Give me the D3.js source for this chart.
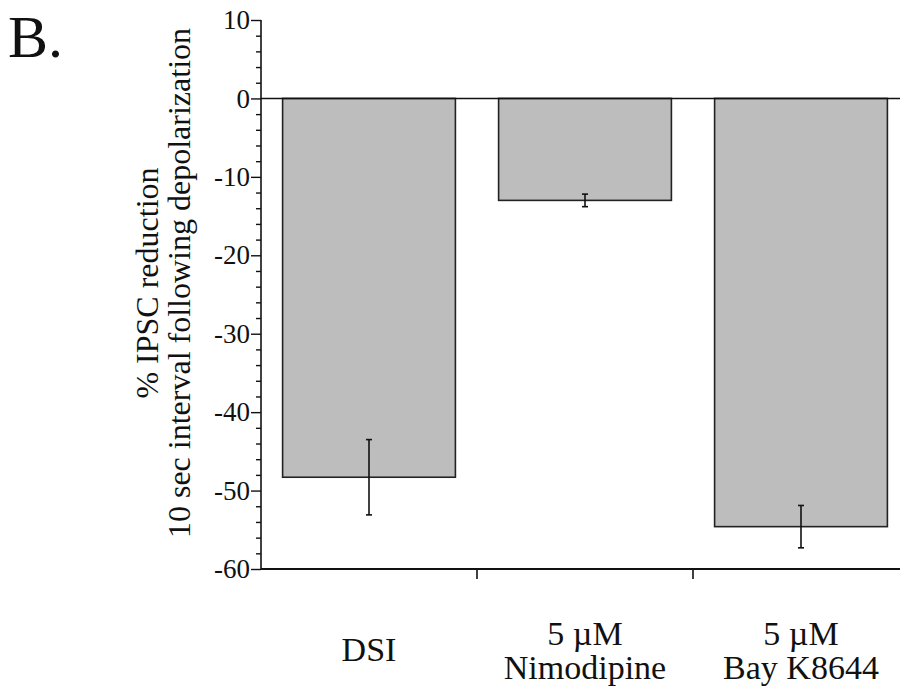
<!doctype html>
<html>
<head>
<meta charset="utf-8">
<script src="https://cdnjs.cloudflare.com/ajax/libs/d3/7.8.5/d3.min.js"></script>
<style>
  body { margin: 0; background: #fff; }
  svg { display: block; }
  text { font-family: "Liberation Serif", "DejaVu Serif", serif; fill: #111; }
</style>
</head>
<body>
<svg id="chart" width="900" height="691"></svg>
<script>
// data
var categories = ["DSI", "Nimodipine", "Bay K8644"];
var catLabels = [["DSI"], ["5 \u00b5M", "Nimodipine"], ["5 \u00b5M", "Bay K8644"]];
var values = [-48.3, -13.0, -54.6];
var errors = [4.8, 0.8, 2.7];
var yTickLabels = [10, 0, -10, -20, -30, -40, -50, -60];

var svg = d3.select("#chart");

var yScale = d3.scaleLinear().domain([-60, 10]).range([569, 20]);
var xScale = d3.scaleBand().domain(categories).range([261, 909])
  .paddingInner(0.2).paddingOuter(0.1);

// panel letter
svg.append("text").attr("x", 8).attr("y", 57)
  .attr("font-size", 60).text("B.");

// y axis: major + minor ticks
var yAxis = d3.axisLeft(yScale).tickValues(yTickLabels).tickSize(10).tickPadding(1)
  .tickFormat(function(d) { return String(d); });
var yG = svg.append("g").attr("transform", "translate(261,0)").call(yAxis);
yG.select(".domain").remove();
yG.selectAll("text").attr("font-size", 27).attr("font-family", "Liberation Serif")
  .attr("fill", "#111").attr("dy", "0.32em");
yG.selectAll("line").attr("stroke", "#111").attr("stroke-width", 1.4);

var minor = d3.range(-60, 11, 2).filter(function(d) { return d % 10 !== 0; });
var yMinor = d3.axisLeft(yScale).tickValues(minor).tickSize(5).tickFormat("");
var mG = svg.append("g").attr("transform", "translate(261,0)").call(yMinor);
mG.select(".domain").remove();
mG.selectAll("line").attr("stroke", "#111").attr("stroke-width", 1.4);

svg.append("line").attr("x1", 261).attr("x2", 261)
  .attr("y1", yScale(10)).attr("y2", yScale(-60))
  .attr("stroke", "#111").attr("stroke-width", 1.6);

// bars
svg.selectAll("rect.bar").data(values).enter().append("rect")
  .attr("class", "bar")
  .attr("x", function(d, i) { return xScale(categories[i]); })
  .attr("y", yScale(0))
  .attr("width", xScale.bandwidth())
  .attr("height", function(d) { return yScale(d) - yScale(0); })
  .attr("fill", "#bdbdbd").attr("stroke", "#222").attr("stroke-width", 1.6);

// zero line
svg.append("line").attr("x1", 261).attr("x2", 900)
  .attr("y1", yScale(0)).attr("y2", yScale(0))
  .attr("stroke", "#111").attr("stroke-width", 1.6);

// error bars
var eb = svg.selectAll("g.err").data(values).enter().append("g").attr("class", "err");
eb.append("line")
  .attr("x1", function(d, i) { return xScale(categories[i]) + xScale.bandwidth() / 2; })
  .attr("x2", function(d, i) { return xScale(categories[i]) + xScale.bandwidth() / 2; })
  .attr("y1", function(d, i) { return yScale(d + errors[i]); })
  .attr("y2", function(d, i) { return yScale(d - errors[i]); })
  .attr("stroke", "#111").attr("stroke-width", 1.6);
[1, -1].forEach(function(s) {
  eb.append("line")
    .attr("x1", function(d, i) { return xScale(categories[i]) + xScale.bandwidth() / 2 - 3; })
    .attr("x2", function(d, i) { return xScale(categories[i]) + xScale.bandwidth() / 2 + 3; })
    .attr("y1", function(d, i) { return yScale(d + s * errors[i]); })
    .attr("y2", function(d, i) { return yScale(d + s * errors[i]); })
    .attr("stroke", "#111").attr("stroke-width", 1.6);
});

// x axis
svg.append("line").attr("x1", 261).attr("x2", 900)
  .attr("y1", yScale(-60)).attr("y2", yScale(-60))
  .attr("stroke", "#111").attr("stroke-width", 1.8);
var step = xScale.step();
svg.selectAll("line.xt").data(categories.slice(1)).enter().append("line")
  .attr("class", "xt")
  .attr("x1", function(d) { return xScale(d) - step * 0.1; })
  .attr("x2", function(d) { return xScale(d) - step * 0.1; })
  .attr("y1", yScale(-60)).attr("y2", yScale(-60) + 10)
  .attr("stroke", "#111").attr("stroke-width", 1.6);

// category labels
catLabels.forEach(function(lines, i) {
  var cx = xScale(categories[i]) + xScale.bandwidth() / 2;
  var t = svg.append("text").attr("text-anchor", "middle").attr("font-size", 34);
  if (lines.length === 1) {
    t.append("tspan").attr("x", cx).attr("y", 661).text(lines[0]);
  } else {
    t.append("tspan").attr("x", cx).attr("y", 645).text(lines[0]);
    t.append("tspan").attr("x", cx).attr("y", 679).text(lines[1]);
  }
});

// y axis title
var yt = svg.append("text").attr("text-anchor", "middle").attr("font-size", 32)
  .attr("transform", "translate(0,283) rotate(-90)");
yt.append("tspan").attr("x", 0).attr("y", 158).text("% IPSC reduction");
yt.append("tspan").attr("x", 0).attr("y", 190).text("10 sec interval following depolarization");
</script>
</body>
</html>
